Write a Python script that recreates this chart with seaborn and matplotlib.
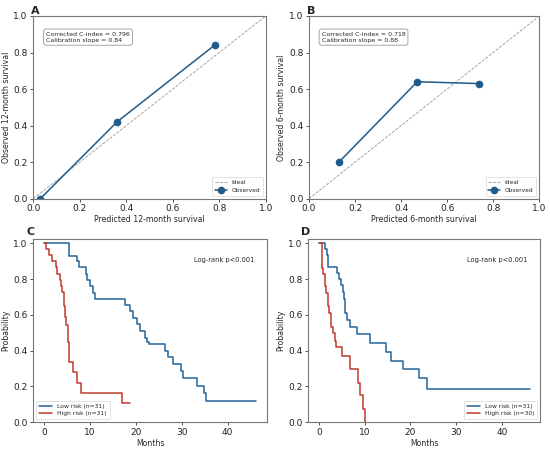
import numpy as np
import pandas as pd
import matplotlib
matplotlib.use("Agg")
import matplotlib.pyplot as plt
import seaborn as sns

# ---- Data ----
# Calibration A (12-month)
cal_a_pred = [0.03, 0.36, 0.78]
cal_a_obs = [0.00, 0.42, 0.84]
# Calibration B (6-month)
cal_b_pred = [0.13, 0.47, 0.74]
cal_b_obs = [0.20, 0.64, 0.63]
ideal = [0.0, 1.0]

# KM C
c_low_t = [0, 5.5, 7.2, 7.6, 9.1, 9.4, 10.1, 10.7, 11.2, 17.7, 18.8, 19.3, 20.2, 20.9, 21.9, 22.4, 22.9,
           26.4, 27.1, 28.2, 29.9, 30.3, 33.4, 34.8, 35.3, 46.2]
c_low_s = [1.0, 0.93, 0.90, 0.865, 0.83, 0.795, 0.76, 0.72, 0.69, 0.655, 0.62, 0.58, 0.55, 0.51, 0.47, 0.45, 0.436,
           0.40, 0.363, 0.328, 0.285, 0.246, 0.205, 0.162, 0.121, 0.121]
c_high_t = [0, 0.5, 1.1, 1.8, 2.7, 2.9, 3.4, 3.8, 4.0, 4.3, 4.5, 4.9, 5.2, 5.5, 6.3, 7.2, 8.0, 16.9, 18.7]
c_high_s = [1.0, 0.97, 0.935, 0.90, 0.866, 0.83, 0.795, 0.76, 0.73, 0.65, 0.59, 0.545, 0.45, 0.335, 0.28, 0.22,
            0.165, 0.11, 0.11]

# KM D
d_low_t = [0, 1.4, 1.8, 2.1, 4.0, 4.4, 4.8, 5.2, 5.5, 5.8, 6.1, 6.9, 8.3, 11.2, 14.7, 15.8, 18.3, 21.8, 23.6, 46.0]
d_low_s = [1.0, 0.97, 0.935, 0.866, 0.835, 0.80, 0.765, 0.73, 0.69, 0.61, 0.57, 0.535, 0.495, 0.445, 0.395,
           0.345, 0.295, 0.245, 0.185, 0.185]
d_high_t = [0, 0.6, 1.0, 1.3, 1.6, 1.9, 2.1, 2.3, 2.6, 3.1, 3.5, 3.8, 5.1, 6.8, 8.6, 8.9, 9.7, 10.1]
d_high_s = [1.0, 0.86, 0.83, 0.76, 0.72, 0.69, 0.65, 0.61, 0.535, 0.50, 0.455, 0.42, 0.37, 0.30, 0.22, 0.15,
            0.075, 0.0]

ticks01 = [0.0, 0.2, 0.4, 0.6, 0.8, 1.0]

BLUE = "#1f5c8c"
KMBLUE = "#23649a"
RED = "#c0392b"

sns.set_theme(style="white")
plt.rcParams['font.family'] = ['DejaVu Sans']

fig = plt.figure(figsize=(5.5, 4.49), dpi=100)
axA = fig.add_axes([0.0606, 0.5575, 0.4224, 0.4069])
axB = fig.add_axes([0.5618, 0.5575, 0.4187, 0.4069])
axC = fig.add_axes([0.0606, 0.0595, 0.4244, 0.4075])
axD = fig.add_axes([0.5605, 0.0595, 0.4215, 0.4075])

TICK = 6.5
LAB = 5.6


def style_axes(ax):
    for sp in ax.spines.values():
        sp.set_color("#777777")
        sp.set_linewidth(0.8)
    ax.tick_params(axis='both', which='both', labelsize=TICK, length=2.5, width=0.6,
                   direction='out', bottom=True, left=True, pad=1.5, colors='#333333')
    ax.tick_params(labelcolor='#222222')


def calib(ax, pred, obs, xlabel, ylabel, cidx, slope, letter):
    sns.lineplot(x=ideal, y=ideal, ax=ax, color='#999999', linestyle='--', linewidth=0.6, label='Ideal')
    sns.lineplot(x=pred, y=obs, ax=ax, color=BLUE, linewidth=1.1, marker='o', markersize=5.5,
                 markeredgewidth=0, label='Observed', sort=False)
    ax.set_xlim(0, 1)
    ax.set_ylim(0, 1)
    ax.set_xticks(ticks01)
    ax.set_yticks(ticks01)
    ax.set_xlabel(xlabel, fontsize=LAB, labelpad=1.5)
    ax.set_ylabel(ylabel, fontsize=LAB, labelpad=2.0)
    ax.text(0.055, 0.915, f"Corrected C-index = {cidx}\nCalibration slope = {slope}",
            transform=ax.transAxes, fontsize=4.5, va='top', ha='left', linespacing=1.3,
            bbox=dict(boxstyle='round,pad=0.4', facecolor='white', edgecolor='#999999', linewidth=0.6))
    leg = ax.legend(loc='lower right', fontsize=4.2, frameon=True, handlelength=2.0,
                    borderpad=0.5, labelspacing=0.4, fancybox=True)
    leg.get_frame().set_linewidth(0.5)
    leg.get_frame().set_edgecolor('#cccccc')
    ax.text(-0.01, 1.0, letter, transform=ax.transAxes, fontsize=8, fontweight='bold',
            ha='left', va='bottom')
    style_axes(ax)


def km(ax, lt, ls, ht, hs, llab, hlab, legloc, letter):
    sns.lineplot(x=lt, y=ls, ax=ax, color=KMBLUE, linewidth=1.1, drawstyle='steps-post', label=llab)
    sns.lineplot(x=ht, y=hs, ax=ax, color=RED, linewidth=1.1, drawstyle='steps-post', label=hlab)
    ax.set_ylim(0, 1.022)
    ax.set_yticks(ticks01)
    ax.set_xticks([0, 10, 20, 30, 40])
    ax.set_xlabel("Months", fontsize=LAB, labelpad=1.5)
    ax.set_ylabel("Probability", fontsize=LAB, labelpad=2.0)
    ax.text(0.945, 0.885, "Log-rank p<0.001", transform=ax.transAxes, fontsize=4.8, ha='right', va='center')
    leg = ax.legend(loc=legloc, fontsize=4.3, frameon=True, handlelength=2.2,
                    borderpad=0.5, labelspacing=0.4, fancybox=True)
    leg.get_frame().set_linewidth(0.5)
    leg.get_frame().set_edgecolor('#cccccc')
    ax.text(-0.03, 1.01, letter, transform=ax.transAxes, fontsize=8, fontweight='bold',
            ha='left', va='bottom')
    style_axes(ax)


calib(axA, cal_a_pred, cal_a_obs, "Predicted 12-month survival", "Observed 12-month survival",
      "0.796", "0.84", "A")
calib(axB, cal_b_pred, cal_b_obs, "Predicted 6-month survival", "Observed 6-month survival",
      "0.718", "0.88", "B")
km(axC, c_low_t, c_low_s, c_high_t, c_high_s, "Low risk (n=31)", "High risk (n=31)", 'lower left', "C")
km(axD, d_low_t, d_low_s, d_high_t, d_high_s, "Low risk (n=31)", "High risk (n=30)", 'lower right', "D")

fig.savefig("out.png", dpi=100)
